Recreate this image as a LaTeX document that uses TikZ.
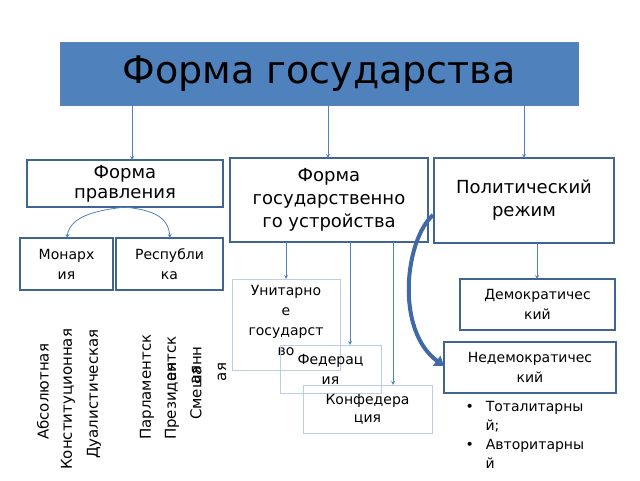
\documentclass[tikz,border=0pt]{standalone}
\usepackage{fontspec}
\setmainfont{DejaVu Sans}
\usetikzlibrary{arrows.meta}
\begin{document}
\begin{tikzpicture}[x=1pt,y=-1pt,
  bx/.style={draw={rgb,255:red,65;green,100;blue,150}, line width=1.6pt, inner sep=0pt, align=center, font=\fontsize{16}{18}\selectfont},
  lb/.style={draw={rgb,255:red,190;green,205;blue,230}, line width=0.6pt, inner sep=0pt, align=center, font=\fontsize{14}{18}\selectfont},
  ar/.style={draw={rgb,255:red,79;green,129;blue,189}, line width=0.8pt, -stealth},
  vt/.style={rotate=90, font=\fontsize{15}{18}\selectfont, inner sep=0pt}]
\useasboundingbox (0,0) rectangle (640,480);
\definecolor{tb}{RGB}{79,129,189}
\node[draw={rgb,255:red,90;green,130;blue,180}, fill=tb, line width=1pt, minimum width=518pt, minimum height=63pt, font=\fontsize{38}{40}\selectfont] (t) at (319,73.5) {Форма государства};
\node[bx, minimum width=196pt, minimum height=47pt, font=\fontsize{18}{20}\selectfont] (fp) at (125,183.5) {Форма\\правления};
\node[bx, minimum width=198pt, minimum height=84pt, font=\fontsize{18}{23}\selectfont] (fu) at (329,200) {Форма\\государственно\\го устройства};
\node[bx, minimum width=180pt, minimum height=85pt, font=\fontsize{18}{23}\selectfont] (pr) at (524,200.5) {Политический\\режим};
\node[bx, minimum width=93pt, minimum height=52pt, font=\fontsize{14}{20}\selectfont] (m) at (66.5,264) {Монарх\\ия};
\node[bx, minimum width=107pt, minimum height=52pt, font=\fontsize{14}{20}\selectfont] (r) at (169.5,264) {Республи\\ка};
\node[lb, minimum width=108pt, minimum height=91pt, anchor=north] (u) at (286,279) {};
\node[font=\fontsize{14}{20}\selectfont, align=center, anchor=north] (ut) at (286,282) {Унитарно\\е\\государст\\во};
\node[lb, minimum width=101pt, minimum height=48pt] (f) at (330.5,369) {};
\node[font=\fontsize{14}{20}\selectfont, align=center] (ft) at (330.5,369) {Федерац\\ия};
\node[lb, minimum width=129pt, minimum height=48pt] (k) at (367.5,409) {Конфедера\\ция};
\node[bx, minimum width=155pt, minimum height=51pt, font=\fontsize{14}{20}\selectfont] (d) at (537.5,304.5) {Демократичес\\кий};
\node[bx, minimum width=172pt, minimum height=51pt, font=\fontsize{14}{20}\selectfont] (n) at (530,367.5) {Недемократичес\\кий};
\node[font=\fontsize{14}{19}\selectfont, align=left, anchor=north west] (bl) at (462,398) {•\hspace{12pt}Тоталитарны\\\hspace{20pt}й;\\•\hspace{12pt}Авторитарны\\\hspace{20pt}й};
% vertical texts
\node[vt, anchor=west] (v1) at (43,440) {Абсолютная};
\node[vt, anchor=west] (v2) at (68,470) {Конституционная};
\node[vt, anchor=west] (v3) at (94,459) {Дуалистическая};
\node[vt, anchor=west] (v4) at (147,440) {Парламентск};
\node[vt] (v4b) at (172,372) {ая};
\node[vt, anchor=west] (v5) at (172,440) {Президентск};
\node[vt] (v5b) at (196,375) {ая};
\node[vt, anchor=west] (v6) at (196,420) {Смешанн};
\node[vt] (v6b) at (222,372) {ая};
% arrows
\draw[ar] (132,105) -- (132,160);
\draw[ar] (328,105) -- (328,158);
\draw[ar] (524,105) -- (524,158);
\draw[ar] (125,207) .. controls (100,210) and (70,215) .. (67,238);
\draw[ar] (125,207) .. controls (150,210) and (168,215) .. (170,238);
\draw[ar] (286,242) -- (286,279);
\draw[ar] (350,242) -- (350,345);
\draw[ar] (393,242) -- (393,385);
\draw[ar] (537,243) -- (537,279);
\draw[draw={rgb,255:red,65;green,105;blue,165}, line width=4pt, -{Triangle[width=12pt,length=9pt]}] (433,215) .. controls (405,240) and (395,330) .. (444,366);
\end{tikzpicture}
\end{document}
